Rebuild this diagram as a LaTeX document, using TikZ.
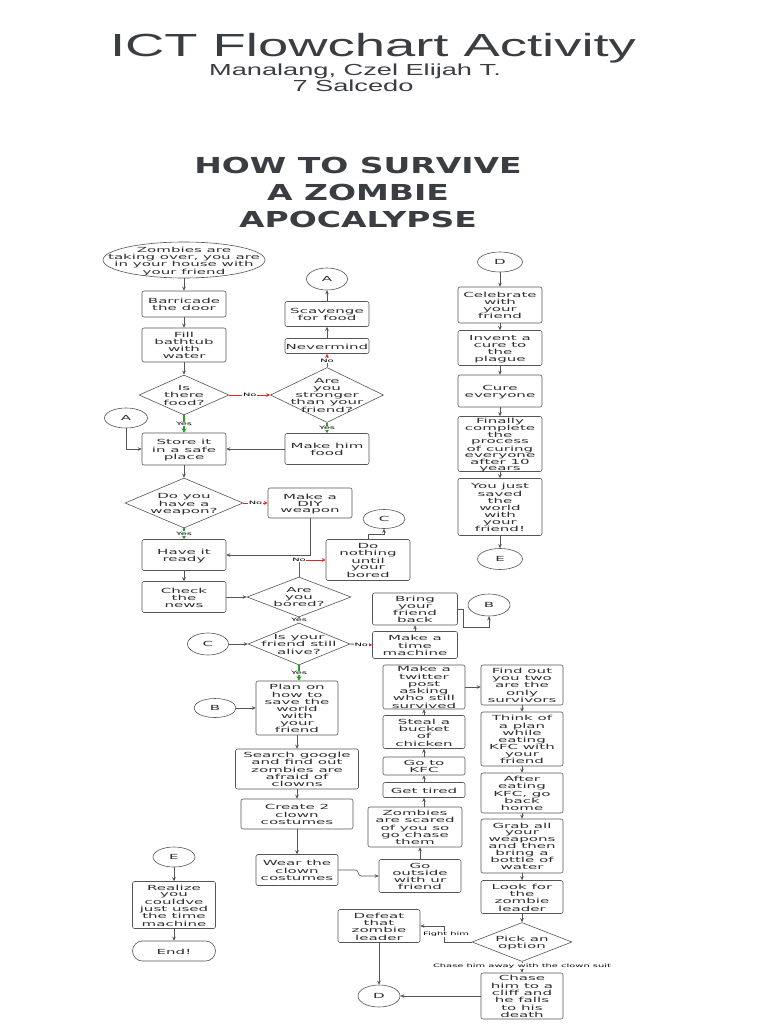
\documentclass[tikz,border=0pt]{standalone}
\usepackage{fontspec}
\setmainfont{DejaVu Sans}
\newfontfamily\nodefont{DejaVu Sans}[FakeStretch=2.15]
\newfontfamily\titlefont{Liberation Sans}[FakeStretch=1.7]
\newfontfamily\headfont{DejaVu Sans}[FakeStretch=1.5]
\usetikzlibrary{shapes.geometric,arrows.meta,calc}
\definecolor{txtgray}{HTML}{2E2E2E}
\definecolor{linegray}{HTML}{555555}
\definecolor{titlegray}{HTML}{3A3D42}
\definecolor{yesgreen}{HTML}{2A9D2A}
\definecolor{nored}{HTML}{E8262A}
\newcommand\zt[1]{\smash{\makebox[0pt]{\raisebox{-0.45em}{\begin{tabular}{@{}c@{}}#1\end{tabular}}}}}
\begin{document}
\begin{tikzpicture}[x=1pt,y=-1pt,
  every node/.style={text=txtgray},
  sz/.style 2 args={minimum width=#1, minimum height=#2},
  box/.style={draw=linegray, line width=0.6pt, rounded corners=2pt, inner sep=0pt,
    font=\nodefont\fontsize{7}{6.7}\selectfont},
  tight/.style={font=\nodefont\fontsize{7}{6.3}\selectfont},
  dia/.style={box, shape=diamond, rounded corners=0pt},
  conn/.style={box, shape=ellipse, rounded corners=0pt},
  term/.style={box, rounded corners=10pt},
  arr/.style={draw=linegray, line width=0.6pt, -{Stealth[length=4pt,width=3.6pt]}},
  yesarr/.style={draw=yesgreen, line width=1.4pt, -{Stealth[length=4.5pt,width=5pt]}},
  noarr/.style={draw=nored, line width=0.9pt, -{Stealth[length=4pt,width=4pt]}},
  lab/.style={fill=white, inner sep=0.6pt, text=black, font=\nodefont\fontsize{4.6}{5}\selectfont},
  ttl/.style={text=titlegray, anchor=base},
]
\fill[white] (0,0) rectangle (768,1024);
\useasboundingbox (0,0) rectangle (768,1024);

% titles
\node[ttl, font=\titlefont\fontsize{32}{32}\selectfont] (title) at (373,57) {ICT Flowchart Activity};
\node[ttl, font=\titlefont\fontsize{16}{16}\selectfont] (author) at (355,76) {Manalang, Czel Elijah T.};
\node[ttl, font=\titlefont\fontsize{16}{16}\selectfont] (klass) at (353,92) {7 Salcedo};
\node[ttl, font=\headfont\bfseries\fontsize{22}{22}\selectfont] (head1) at (358,174) {HOW TO SURVIVE};
\node[ttl, font=\headfont\bfseries\fontsize{22}{22}\selectfont] (head2) at (358,201) {A ZOMBIE};
\node[ttl, font=\headfont\bfseries\fontsize{22}{22}\selectfont] (head3) at (358,228) {APOCALYPSE};

% left column
\node[conn, sz={162}{36}] (start) at (184,260) {\zt{Zombies are\\taking over, you are\\in your house with\\your friend}};
\node[box, sz={84}{26}] (barr) at (184,304) {\zt{Barricade\\the door}};
\node[box, sz={84}{34}] (fill) at (184,345) {\zt{Fill\\bathtub\\with\\water}};
\node[dia, sz={90}{40}] (food) at (184,395) {\zt{Is\\there\\food?}};
\node[conn, sz={43}{20}] (A1) at (126,418) {\zt{A}};
\node[box, sz={84}{32}] (store) at (184,449) {\zt{Store it\\in a safe\\place}};
\node[dia, sz={113}{55}] (stronger) at (327,395) {\zt{Are\\you\\stronger\\than your\\friend?}};
\node[box, sz={84}{15}] (never) at (327,346) {\zt{Nevermind}};
\node[box, sz={84}{25}] (scav) at (327,314) {\zt{Scavenge\\for food}};
\node[conn, sz={41}{22}] (A2) at (327,279) {\zt{A}};
\node[box, sz={84}{31}] (himfood) at (327,449) {\zt{Make him\\food}};

\node[dia, sz={118}{50}] (weapon) at (184,503) {\zt{Do you\\have a\\weapon?}};
\node[box, sz={84}{30}] (diy) at (310,503) {\zt{Make a\\DIY\\weapon}};
\node[box, sz={84}{31}] (ready) at (184,555) {\zt{Have it\\ready}};
\node[box, sz={84}{31}] (news) at (184,597) {\zt{Check\\the\\news}};
\node[dia, sz={104}{40}] (bored) at (299,597) {\zt{Are\\you\\bored?}};
\node[box, sz={84}{41}] (nothing) at (368,560) {\zt{Do\\nothing\\until\\your\\bored}};
\node[conn, sz={42}{19}] (C1) at (384,519) {\zt{C}};
\node[dia, sz={102}{42}] (alive) at (299,644) {\zt{Is your\\friend still\\alive?}};
\node[conn, sz={41}{22}] (C2) at (208,644) {\zt{C}};
\node[box, sz={85}{27}] (time) at (415,645) {\zt{Make a\\time\\machine}};
\node[box, sz={85}{32}] (bring) at (415,609) {\zt{Bring\\your\\friend\\back}};
\node[conn, sz={42}{22}] (B1) at (489,605) {\zt{B}};

\node[box, tight, sz={82}{54}] (plan) at (297,708) {\zt{Plan on\\how to\\save the\\world\\with\\your\\friend}};
\node[conn, sz={42}{19}] (B2) at (215,708) {\zt{B}};
\node[box, sz={123}{40}] (google) at (297,769) {\zt{Search google\\and find out\\zombies are\\afraid of\\clowns}};
\node[box, sz={112}{30}] (create) at (297,814) {\zt{Create 2\\clown\\costumes}};
\node[box, sz={82}{31}] (wear) at (297,870) {\zt{Wear the\\clown\\costumes}};

\node[conn, sz={42}{20}] (E1) at (174,857) {\zt{E}};
\node[box, sz={83}{47}] (realize) at (174,905) {\zt{Realize\\you\\couldve\\just used\\the time\\machine}};
\node[term, sz={83}{20}] (end) at (174,951) {\zt{End!}};

% right column
\node[conn, sz={45}{20}] (D1) at (500,262) {\zt{D}};
\node[box, sz={84}{36}] (celeb) at (500,305) {\zt{Celebrate\\with\\your\\friend}};
\node[box, sz={84}{35}] (invent) at (500,348) {\zt{Invent a\\cure to\\the\\plague}};
\node[box, sz={84}{32}] (cure) at (500,391) {\zt{Cure\\everyone}};
\node[box, tight, sz={84}{55}] (finally) at (500,444) {\zt{Finally\\complete\\the\\process\\of curing\\everyone\\after 10\\years}};
\node[box, tight, sz={84}{57}] (saved) at (500,507) {\zt{You just\\saved\\the\\world\\with\\your\\friend!}};
\node[conn, sz={45}{21}] (E2) at (500,559) {\zt{E}};

% KFC section
\node[box, sz={82}{44}] (twitter) at (424,687) {\zt{Make a\\twitter\\post\\asking\\who still\\survived}};
\node[box, sz={82}{40}] (findout) at (522,685) {\zt{Find out\\you two\\are the\\only\\survivors}};
\node[box, tight, sz={82}{54}] (think) at (522,739) {\zt{Think of\\a plan\\while\\eating\\KFC with\\your\\friend}};
\node[box, sz={82}{33}] (steal) at (424,732) {\zt{Steal a\\bucket\\of\\chicken}};
\node[box, sz={82}{18}] (kfc) at (424,766) {\zt{Go to\\KFC}};
\node[box, sz={82}{15}] (tired) at (424,790) {\zt{Get tired}};
\node[box, sz={94}{40}] (scared) at (415,827) {\zt{Zombies\\are scared\\of you so\\go chase\\them}};
\node[box, sz={82}{33}] (outside) at (420,876) {\zt{Go\\outside\\with ur\\friend}};
\node[box, sz={82}{40}] (after) at (522,793) {\zt{After\\eating\\KFC, go\\back\\home}};
\node[box, tight, sz={82}{54}] (grab) at (522,846) {\zt{Grab all\\your\\weapons\\and then\\bring a\\bottle of\\water}};
\node[box, sz={82}{33}] (look) at (522,897) {\zt{Look for\\the\\zombie\\leader}};
\node[dia, sz={100}{39}] (pick) at (522,942) {\zt{Pick an\\option}};
\node[box, sz={82}{33}] (defeat) at (379,926) {\zt{Defeat\\that\\zombie\\leader}};
\node[conn, sz={42}{22}] (D2) at (379,996) {\zt{D}};
\node[box, sz={82}{46}] (chase) at (522,996) {\zt{Chase\\him to a\\cliff and\\he falls\\to his\\death}};

% connectors: left column
\draw[arr] (start) -- (barr);
\draw[arr] (barr) -- (fill);
\draw[arr] (fill) -- (food);
\draw[yesarr] (food.south) -- node[lab]{Yes} (store.north);
\draw[noarr] (food.east) -- node[lab]{No} (stronger.west);
\draw[noarr] (stronger.north) -- node[lab]{No} (never.south);
\draw[arr] (never) -- (scav);
\draw[arr] (scav) -- (A2);
\draw[yesarr] (stronger.south) -- node[lab]{Yes} (himfood.north);
\draw[arr] (himfood) -- (store);
\draw[arr] (A1.south) |- (store.west);
\draw[arr] (store) -- (weapon);
\draw[noarr] (weapon.east) -- node[lab]{No} (diy.west);
\draw[yesarr] (weapon.south) -- node[lab]{Yes} (ready.north);
\draw[arr] (diy.south) |- (ready.east);
\draw[arr] (ready) -- (news);
\draw[arr] (news) -- (bored);
\draw[noarr] (bored.north) |- node[lab,pos=0.5]{No} (nothing.west);
\draw[arr] (nothing.north) -- ++(0,-5) -| (C1.south);
\draw[yesarr] (bored.south) -- node[lab]{Yes} (alive.north);
\draw[noarr] (alive.east) -- node[lab]{No} (time.west);
\draw[arr] (time) -- (bring);
\draw[arr] (bring.east) -- ++(5,0) |- ($(B1.south)+(0,11)$) -- (B1.south);
\draw[arr] (C2) -- (alive);
\draw[yesarr] (alive.south) -- node[lab]{Yes} (alive.south |- plan.north);
\draw[arr] (B2) -- (plan);
\draw[arr] (plan) -- (google);
\draw[arr] (google) -- (create);
\draw[arr] (create) -- (wear);
\draw[arr, rounded corners=3pt] (wear.east) -- ++(20,0) |- (outside.west);
\draw[arr] (outside.north) -- (outside.north |- scared.south);
\draw[arr] (tired.south |- scared.north) -- (tired.south);
\draw[arr] (tired) -- (kfc);
\draw[arr] (kfc) -- (steal);
\draw[arr] (steal) -- (twitter);
\draw[arr] (twitter.east) -- (twitter.east -| findout.west);
\draw[arr] (findout) -- (think);
\draw[arr] (think) -- (after);
\draw[arr] (after) -- (grab);
\draw[arr] (grab) -- (look);
\draw[arr] (look) -- (pick);
\draw[arr] (pick.west) -- ++(-27,0) |- (defeat.east);
\node[lab] (fightlab) at (446,934) {Fight him};
\draw[arr] (pick.south) -- (chase.north);
\node[lab] (chaselab) at (522,966) {Chase him away with the clown suit};
\draw[arr] (chase) -- (D2);
\draw[arr] (defeat) -- (D2);
\draw[arr] (E1) -- (realize);
\draw[arr] (realize) -- (end);
% right column
\draw[arr] (D1) -- (celeb);
\draw[arr] (celeb) -- (invent);
\draw[arr] (invent) -- (cure);
\draw[arr] (cure) -- (finally);
\draw[arr] (finally) -- (saved);
\draw[arr] (saved) -- (E2);
\end{tikzpicture}
\end{document}
